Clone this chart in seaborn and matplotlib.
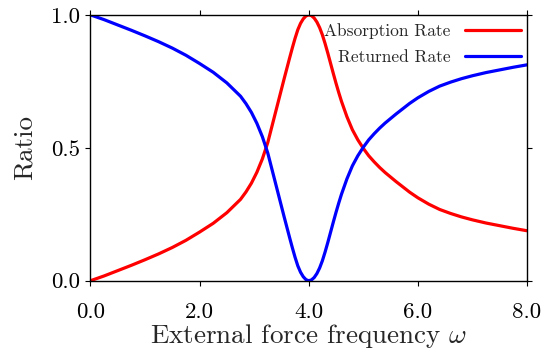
import matplotlib
matplotlib.use("Agg")
import matplotlib.pyplot as plt
import seaborn as sns
import pandas as pd

# Data
omega = [0.0, 0.25, 0.5, 0.75, 1.0, 1.25, 1.5, 1.75, 2.0, 2.25, 2.5, 2.75,
         2.85, 2.95, 3.05, 3.15, 3.25, 3.35, 3.45, 3.55, 3.65, 3.7, 3.75,
         3.8, 3.85, 3.9, 3.95, 4.0, 4.05, 4.1, 4.15, 4.2, 4.25, 4.3, 4.35,
         4.4, 4.45, 4.5, 4.55, 4.6, 4.7, 4.8, 4.9, 5.0, 5.1, 5.2, 5.3, 5.4,
         5.5, 5.6, 5.7, 5.85, 6.0, 6.2, 6.4, 6.6, 6.8, 7.0, 7.25, 7.5, 7.75,
         8.0]
absorption = [0.0, 0.018, 0.038, 0.058, 0.079, 0.101, 0.125, 0.152, 0.183,
              0.216, 0.256, 0.306, 0.334, 0.367, 0.408, 0.458, 0.52, 0.6, 0.68,
              0.76, 0.838, 0.876, 0.912, 0.944, 0.968, 0.985, 0.996, 1.0,
              0.997, 0.988, 0.973, 0.952, 0.925, 0.892, 0.856, 0.818, 0.78,
              0.743, 0.708, 0.675, 0.617, 0.568, 0.53, 0.498, 0.47, 0.447,
              0.426, 0.407, 0.39, 0.373, 0.357, 0.333, 0.312, 0.288, 0.268,
              0.253, 0.24, 0.229, 0.217, 0.207, 0.197, 0.188]
returned = [1.0, 0.982, 0.962, 0.942, 0.921, 0.899, 0.875, 0.848, 0.817,
            0.784, 0.744, 0.694, 0.666, 0.633, 0.592, 0.542, 0.48, 0.4, 0.32,
            0.24, 0.162, 0.124, 0.088, 0.056, 0.032, 0.015, 0.004, 0.0,
            0.003, 0.012, 0.027, 0.048, 0.075, 0.108, 0.144, 0.182, 0.22,
            0.257, 0.292, 0.325, 0.383, 0.432, 0.47, 0.502, 0.53, 0.553,
            0.574, 0.593, 0.61, 0.627, 0.643, 0.667, 0.688, 0.712, 0.732,
            0.747, 0.76, 0.771, 0.783, 0.793, 0.803, 0.812]
series_names = ["Absorption Rate", "Returned Rate"]
series_colors = ["#ff0000", "#0000ff"]
x_ticks = [0.0, 2.0, 4.0, 6.0, 8.0]
x_tick_labels = ["0.0", "2.0", "4.0", "6.0", "8.0"]
y_ticks = [0.0, 0.5, 1.0]
y_tick_labels = ["0.0", "0.5", "1.0"]

sns.set_theme(style="ticks")
plt.rcParams["font.family"] = ["cmr10", "DejaVu Serif"]
plt.rcParams["mathtext.fontset"] = "cm"
plt.rcParams["axes.unicode_minus"] = False
plt.rcParams["axes.formatter.use_mathtext"] = True

df = pd.DataFrame({
    "omega": omega * 2,
    "ratio": absorption + returned,
    "series": [series_names[0]] * len(omega) + [series_names[1]] * len(omega),
})

fig = plt.figure(figsize=(5.55, 3.54), dpi=100)
ax = fig.add_axes([0.163, 0.207, 0.7865, 0.751])
sns.lineplot(data=df, x="omega", y="ratio", hue="series", palette=series_colors,
             hue_order=series_names, linewidth=2.3, ax=ax, sort=False,
             estimator=None)
for line in ax.get_lines():
    line.set_solid_joinstyle("round")
    line.set_solid_capstyle("round")

ax.set_xlim(0, 8)
ax.set_ylim(0, 1)
ax.set_xticks(x_ticks)
ax.set_xticklabels(x_tick_labels)
ax.set_yticks(y_ticks)
ax.set_yticklabels(y_tick_labels)
for s in ax.spines.values():
    s.set_visible(True)
    s.set_color("black")
    s.set_linewidth(1.0)
ax.tick_params(axis="both", which="major", direction="out", length=3.6,
               width=0.8, colors="black", labelsize=16.5,
               top=True, right=True)
ax.tick_params(axis="x", pad=12)
ax.tick_params(axis="y", pad=4)
ax.set_xlabel(r"External force frequency $\omega$", fontsize=19.5, labelpad=0)
ax.set_ylabel("Ratio", fontsize=19.5, labelpad=10)

leg = ax.legend(loc="upper right", frameon=False, markerfirst=False,
                fontsize=12.5, handlelength=3.2, handletextpad=0.85,
                labelspacing=0.62, borderaxespad=0.2, borderpad=0.15,
                bbox_to_anchor=(1.0, 0.992))
for line in leg.get_lines():
    line.set_linewidth(2.3)

fig.savefig("out.png", dpi=100)
